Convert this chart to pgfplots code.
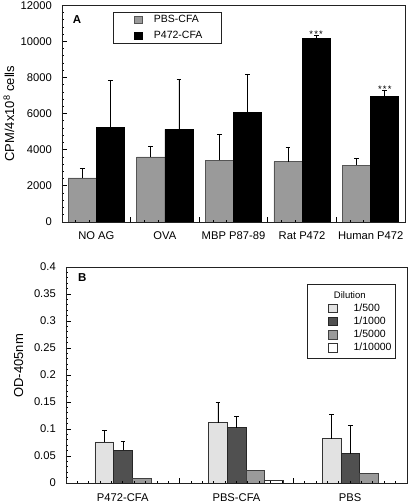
\documentclass[border=0pt]{standalone}
\usepackage{pgfplots}
\pgfplotsset{compat=1.18}
\usepackage{fontspec}
\setmainfont{Liberation Sans}
\definecolor{gTop}{HTML}{9A9A9A}
\definecolor{gTopL}{HTML}{555555}
\definecolor{dA}{HTML}{E2E2E2}
\definecolor{dB}{HTML}{505050}
\definecolor{dC}{HTML}{9A9A9A}
\definecolor{dD}{HTML}{FFFFFF}
\definecolor{frame}{HTML}{222222}
\pgfkeys{/pgfplots/sqA/.style={legend image code/.code={\path (-4pt,0pt); \draw[##1,line width=0.7pt] (0pt,-3.75pt) rectangle (7.5pt,3.75pt);}}}
\pgfkeys{/pgfplots/sqB/.style={legend image code/.code={\path (-18.4pt,0pt); \draw[##1,line width=0.7pt] (0pt,-4.25pt) rectangle (8.5pt,4.25pt);}}}
\pgfplotsset{
  commonax/.style={
    scale only axis,
    axis on top,
    tick align=inside,
    major tick length=5pt,
    minor tick length=2.5pt,
    xtick pos=bottom, ytick pos=left,
    axis line style={frame, line width=0.8pt},
    every tick/.style={black, line width=0.8pt},
    /pgf/number format/assume math mode=true,
    every tick label/.append style={font=\fontsize{11.2}{13}\selectfont},
    yticklabel style={xshift=-6.5pt},
    xticklabels={},
    extra x tick style={major tick length=0pt},
    legend cell align=left,
    every axis y label/.append style={font=\fontsize{13}{15}\selectfont},
  },
  ebar/.style={error bars/.cd, y dir=plus, y explicit,
    error bar style={black, line width=0.8pt},
    error mark options={rotate=90, black, mark size=2.4pt, line width=0.8pt}},
}
\begin{document}
\fontsize{10.5}{12.6}\selectfont
\begin{tikzpicture}
\path[use as bounding box] (0,0) rectangle (410pt,-504pt);
% ---------------- Panel A ----------------
\begin{axis}[commonax,
  at={(62pt,-222pt)}, anchor=south west,
  width=343pt, height=216.7pt,
  xmin=-0.5, xmax=4.5, ymin=0, ymax=12000,
  xtick={-0.5,0.5,1.5,2.5,3.5,4.5}, minor x tick num=4,
  ytick={0,2000,4000,6000,8000,10000,12000}, minor y tick num=4,
  scaled y ticks=false,
  yticklabel style={/pgf/number format/.cd, fixed, set thousands separator={}},
  extra x ticks={0,1,2,3,4},
  extra x tick labels={NO AG,OVA,MBP P87-89,Rat P472,Human P472},
  xticklabel style={yshift=-5.5pt},
  ylabel={CPM/4x10\textsuperscript{8} cells},
  every axis y label/.style={at={(axis description cs:-0.155,0.5)}, rotate=90, anchor=center, font=\fontsize{13}{15}\selectfont},
  legend style={at={(axis description cs:0.148,0.9705)}, anchor=north west,
    draw=frame, line width=0.8pt, fill=white,
    inner xsep=17.3pt, inner ysep=1.3pt, row sep=3pt, column sep=9.3pt,
    nodes={inner sep=2pt}, font=\fontsize{10.5}{12.6}\selectfont},
]
\addplot[ybar, bar width=0.41, bar shift=0pt, fill=gTop, draw=gTopL, line width=0.7pt, sqA, ebar]
  coordinates {(-0.205,2440) +- (0,520) (0.795,3600) +- (0,610) (1.795,3410) +- (0,1420)
               (2.795,3345) +- (0,810) (3.795,3145) +- (0,380)};
\addlegendentry{PBS-CFA}
\addplot[ybar, bar width=0.41, bar shift=0pt, fill=black, draw=black, line width=0.7pt, sqA, ebar]
  coordinates {(0.205,5240) +- (0,2590) (1.205,5130) +- (0,2740) (2.205,6070) +- (0,2130)
               (3.205,10180) +- (0,180) (4.205,6940) +- (0,360)};
\addlegendentry{P472-CFA}
\node[font=\bfseries\fontsize{11.5}{12}\selectfont] at (axis description cs:0.0437,0.932) {A};
\node[anchor=base, inner sep=0pt, yshift=-2.5pt, font=\fontsize{9.5}{10}\selectfont] at (axis cs:3.205,10360) {*\kern1.2pt*\kern1.2pt*};
\node[anchor=base, inner sep=0pt, yshift=-2.5pt, font=\fontsize{9.5}{10}\selectfont] at (axis cs:4.205,7300) {*\kern1.2pt*\kern1.2pt*};
\end{axis}
% ---------------- Panel B ----------------
\begin{axis}[commonax,
  at={(66pt,-483pt)}, anchor=south west,
  width=341pt, height=216pt,
  xmin=-0.5, xmax=2.5, ymin=0, ymax=0.4,
  xtick={-0.5,0.5,1.5,2.5}, minor x tick num=9,
  ytick={0,0.05,0.1,0.15,0.2,0.25,0.3,0.35,0.4}, minor y tick num=4,
  yticklabel style={/pgf/number format/.cd, fixed, precision=2},
  extra x ticks={0,1,2},
  extra x tick labels={P472-CFA,PBS-CFA,PBS},
  xticklabel style={yshift=-6.5pt},
  ylabel={OD-405nm},
  every axis y label/.style={at={(axis description cs:-0.139,0.542)}, rotate=90, anchor=center, font=\fontsize{13}{15}\selectfont},
  legend style={at={(axis description cs:0.7076,0.92)}, anchor=north west,
    draw=frame, line width=0.8pt, fill=white,
    inner xsep=2.3pt, inner ysep=4.5pt, row sep=0pt, column sep=14pt,
    nodes={inner sep=2pt}, font=\fontsize{10.5}{12.6}\selectfont},
]
\addlegendimage{empty legend}
\addlegendentry{\hspace*{-19.7pt}\fontsize{9.5}{11}\selectfont Dilution}
\addplot[ybar, bar width=0.1645, bar shift=0pt, fill=dA, draw=black!80, line width=0.8pt, sqB, ebar]
  coordinates {(-0.163,0.076) +- (0,0.021) (0.837,0.1117) +- (0,0.037) (1.837,0.082) +- (0,0.045)};
\addlegendentry{1/500}
\addplot[ybar, bar width=0.1645, bar shift=0pt, fill=dB, draw=black!85, line width=0.8pt, sqB, ebar]
  coordinates {(0.002,0.061) +- (0,0.0155) (1.002,0.1024) +- (0,0.0216) (2.002,0.054) +- (0,0.053)};
\addlegendentry{1/1000}
\addplot[ybar, bar width=0.1645, bar shift=0pt, fill=dC, draw=black!75, line width=0.8pt, sqB]
  coordinates {(0.166,0.0087) (1.166,0.0235) (2.166,0.017)};
\addlegendentry{1/5000}
\addplot[ybar, bar width=0.1645, bar shift=0pt, fill=dD, draw=black!80, line width=0.8pt, sqB]
  coordinates {(0.331,0) (1.331,0.004) (2.331,0)};
\addlegendentry{1/10000}
\node[font=\bfseries\fontsize{11.5}{12}\selectfont] at (axis description cs:0.048,0.949) {B};
\end{axis}
\end{tikzpicture}
\end{document}
